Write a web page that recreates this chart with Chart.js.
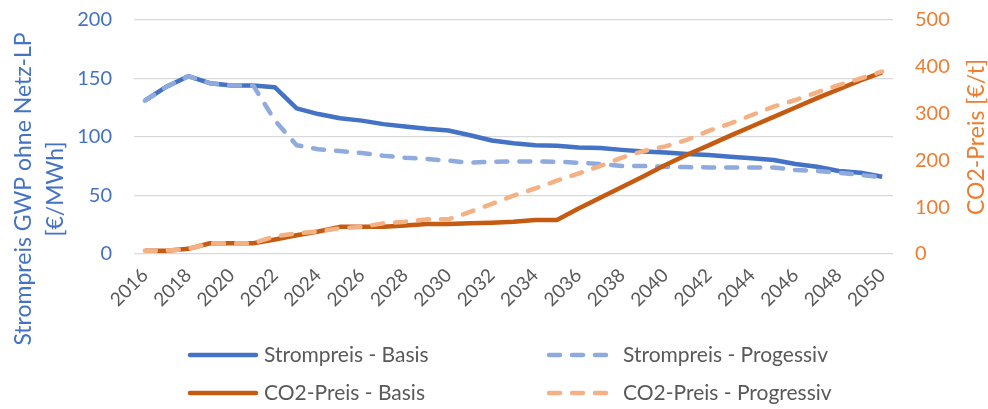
<!DOCTYPE html>
<html>
<head>
<meta charset="utf-8">
<script src="https://cdn.jsdelivr.net/npm/chart.js@4.4.1/dist/chart.umd.min.js"></script>
<style>
  html, body { margin: 0; padding: 0; background: #fff; }
  .chart-box { width: 988px; height: 409px; position: relative; }
</style>
</head>
<body>
<div class="chart-box"><canvas id="chart"></canvas></div>
<script>
// data
const years = ["2016", "2017", "2018", "2019", "2020", "2021", "2022", "2023", "2024", "2025",
  "2026", "2027", "2028", "2029", "2030", "2031", "2032", "2033", "2034", "2035",
  "2036", "2037", "2038", "2039", "2040", "2041", "2042", "2043", "2044", "2045",
  "2046", "2047", "2048", "2049", "2050"];

const stromBasis = [131, 143, 152, 146, 144, 144, 142.5, 124.5, 119.6, 116,
  114, 111, 109, 107, 105.5, 101.5, 97, 94.6, 93, 92.6,
  91, 90.6, 89, 87.7, 86.8, 85.5, 84.6, 83.2, 81.8, 80.3,
  77, 74.6, 71, 69.5, 66];

const stromProgressiv = [131, 143, 152, 146, 144, 144, 114, 93, 89.5, 88,
  86.3, 84, 82.3, 81.2, 79.8, 78, 78.9, 79, 79, 78.9,
  78, 76.9, 75.2, 75.2, 74.6, 74.3, 74, 74, 74, 74,
  71.8, 71, 69.5, 67.5, 65.5];

const co2Basis = [7, 7, 11, 23, 23, 23, 31, 40, 48, 58,
  58, 58, 61, 64, 64, 65.5, 67, 69, 72.6, 72.6,
  97, 120, 143, 166, 190, 212, 232, 253, 273, 293,
  313, 333, 352, 371, 388];

const co2Progressiv = [7, 7, 11, 23, 23, 23, 38, 44, 48, 55,
  58, 65.5, 69, 74, 74, 90, 107, 124.6, 140, 156.7,
  172, 188, 206, 220, 230, 244, 263, 279, 297, 315,
  329, 345.5, 361, 375, 390];

const leftTicks = [0, 50, 100, 150, 200];
const rightTicks = [0, 100, 200, 300, 400, 500];

const seriesNames = ["Strompreis - Basis", "Strompreis - Progessiv", "CO2-Preis - Basis", "CO2-Preis - Progressiv"];
const leftTitle = ["Strompreis GWP ohne Netz-LP", "[€/MWh]"];
const rightTitle = "CO2-Preis [€/t]";

const FONT = "Lato, 'Open Sans', sans-serif";
const BLUE_TEXT = "#4472C4";
const ORANGE_TEXT = "#ED7D31";
const GREY_TEXT = "#595959";

// axis titles + legend drawn on the canvas so they can sit where Excel put them
const extraText = {
  id: "extraText",
  afterDraw(chart) {
    const ctx = chart.ctx;
    ctx.save();
    ctx.font = "23px " + FONT;
    ctx.textAlign = "center";
    ctx.textBaseline = "middle";
    ctx.fillStyle = BLUE_TEXT;
    ctx.translate(24, 189);
    ctx.rotate(-Math.PI / 2);
    ctx.fillText(leftTitle[0], 0, 0);
    ctx.fillText(leftTitle[1], 0, 32);
    ctx.restore();

    ctx.save();
    ctx.font = "23px " + FONT;
    ctx.textAlign = "center";
    ctx.textBaseline = "middle";
    ctx.fillStyle = ORANGE_TEXT;
    ctx.translate(977, 137);
    ctx.rotate(-Math.PI / 2);
    ctx.fillText(rightTitle, 0, 0);
    ctx.restore();

    // legend, 2 x 2
    const spots = [[190, 355], [549, 355], [190, 393], [549, 393]];
    chart.data.datasets.forEach((ds, i) => {
      const [x, y] = spots[i];
      ctx.save();
      ctx.strokeStyle = ds.borderColor;
      ctx.lineWidth = ds.borderWidth;
      ctx.lineCap = "round";
      ctx.setLineDash(ds.borderDash || []);
      ctx.beginPath();
      ctx.moveTo(x, y);
      ctx.lineTo(x + 66, y);
      ctx.stroke();
      ctx.setLineDash([]);
      ctx.font = "21px " + FONT;
      ctx.fillStyle = GREY_TEXT;
      ctx.textAlign = "left";
      ctx.textBaseline = "middle";
      ctx.fillText(ds.label, x + 74, y);
      ctx.restore();
    });
  }
};

const ctx = document.getElementById("chart").getContext("2d");
new Chart(ctx, {
  type: "line",
  data: {
    labels: years,
    datasets: [
      {
        label: seriesNames[0],
        data: stromBasis,
        yAxisID: "y",
        borderColor: "#4472C4",
        borderWidth: 4.5,
        order: 4,
      },
      {
        label: seriesNames[1],
        data: stromProgressiv,
        yAxisID: "y",
        borderColor: "#8FAADC",
        borderWidth: 4.5,
        borderDash: [11, 12],
        borderCapStyle: "round",
        order: 3,
      },
      {
        label: seriesNames[2],
        data: co2Basis,
        yAxisID: "y2",
        borderColor: "#C55A11",
        borderWidth: 4.5,
        order: 2,
      },
      {
        label: seriesNames[3],
        data: co2Progressiv,
        yAxisID: "y2",
        borderColor: "#F4B183",
        borderWidth: 4.5,
        borderDash: [11, 12],
        borderCapStyle: "round",
        order: 1,
      },
    ],
  },
  options: {
    responsive: true,
    maintainAspectRatio: false,
    animation: false,
    elements: {
      point: { radius: 0 },
      line: { tension: 0, borderJoinStyle: "round", fill: false },
    },
    layout: { padding: { top: 20, bottom: 80, left: 0, right: 0 } },
    plugins: {
      legend: { display: false },
      tooltip: { enabled: false },
    },
    scales: {
      x: {
        offset: true,
        grid: { display: false },
        border: { display: false },
        ticks: {
          autoSkip: false,
          minRotation: 45,
          maxRotation: 45,
          padding: 2,
          color: GREY_TEXT,
          font: { family: FONT, size: 19 },
          callback: (val, i) => (i % 2 === 0 ? years[i] : ""),
        },
        afterFit: (s) => { s.height = 409 - 254 - 80; },
      },
      y: {
        position: "left",
        min: leftTicks[0],
        max: leftTicks[leftTicks.length - 1],
        // invisible tick marks give the gap between labels and grid
        grid: { color: "#D9D9D9", lineWidth: 1.3, drawTicks: true, tickLength: 22, tickColor: "rgba(0,0,0,0)" },
        border: { display: false },
        ticks: {
          stepSize: leftTicks[1] - leftTicks[0],
          padding: 0,
          color: BLUE_TEXT,
          font: { family: FONT, size: 20 },
        },
        afterFit: (s) => { s.width = 134; },
      },
      y2: {
        position: "right",
        min: rightTicks[0],
        max: rightTicks[rightTicks.length - 1],
        grid: { drawOnChartArea: false, drawTicks: true, tickLength: 22, tickColor: "rgba(0,0,0,0)" },
        border: { display: false },
        ticks: {
          stepSize: rightTicks[1] - rightTicks[0],
          padding: 0,
          color: ORANGE_TEXT,
          font: { family: FONT, size: 20 },
        },
        afterFit: (s) => { s.width = 988 - 893; },
      },
    },
  },
  plugins: [extraText],
});
</script>
</body>
</html>
